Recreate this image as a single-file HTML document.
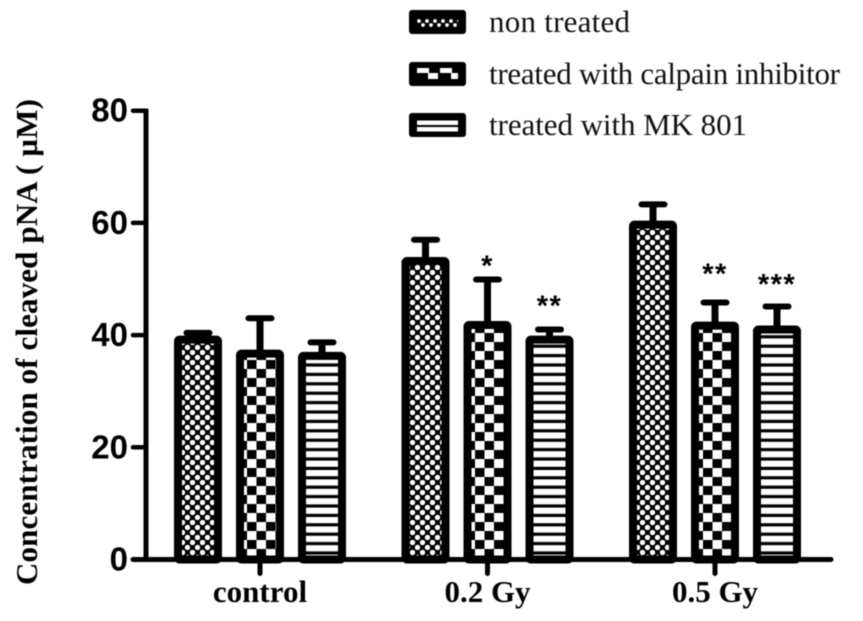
<!DOCTYPE html>
<html lang="en">
<head>
<meta charset="utf-8">
<title>Concentration of cleaved pNA</title>
<style>
html,body{margin:0;padding:0;background:#fff;}
#chart{display:block;width:863px;height:621px;filter:blur(0.55px);}
.tick{font-family:"Liberation Sans",sans-serif;font-weight:700;font-size:33px;fill:#000;text-anchor:end;}
.cat{font-family:"Liberation Serif",serif;font-weight:700;font-size:31px;fill:#000;text-anchor:middle;}
.leg{font-family:"Liberation Serif",serif;font-size:31px;fill:#111;}
.ytitle{font-family:"Liberation Serif",serif;font-weight:700;font-size:31px;fill:#000;}
.star{font-family:"Liberation Sans",sans-serif;font-weight:700;font-size:29px;fill:#000;text-anchor:middle;}
</style>
</head>
<body>
<svg id="chart" xmlns="http://www.w3.org/2000/svg" width="863" height="621" viewBox="0 0 863 621">
<defs>
<pattern id="p-dots" width="10" height="10" patternUnits="userSpaceOnUse">
<rect width="10" height="10" fill="#000"/>
<circle cx="2.5" cy="2.5" r="2.7" fill="#fff"/>
<circle cx="7.5" cy="7.5" r="2.7" fill="#fff"/>
</pattern>
<pattern id="p-check" width="19" height="18" patternUnits="userSpaceOnUse">
<rect width="19" height="18" fill="#fff"/>
<rect x="0" y="0" width="9.5" height="9" fill="#000"/>
<rect x="9.5" y="9" width="9.5" height="9" fill="#000"/>
</pattern>
<pattern id="p-stripe" width="10" height="9.4" patternUnits="userSpaceOnUse">
<rect width="10" height="9.4" fill="#fff"/>
<rect y="6.2" width="10" height="3.2" fill="#000"/>
</pattern>
<pattern id="p-dots-legend" width="8" height="8" patternUnits="userSpaceOnUse" patternTransform="translate(417 19)">
<rect width="8" height="8" fill="#000"/>
<circle cx="2" cy="2" r="1.9" fill="#fff"/>
<circle cx="6" cy="6" r="1.9" fill="#fff"/>
</pattern>
<pattern id="p-check-legend" width="23" height="12" patternUnits="userSpaceOnUse" patternTransform="translate(417 68)">
<rect width="23" height="12" fill="#000"/>
<rect x="0" y="0" width="12" height="5" fill="#fff"/>
<rect x="11" y="5" width="10" height="6" fill="#fff"/>
</pattern>
</defs>
<g id="plot"></g>
<g>
<rect x="409" y="10" width="57" height="24" rx="3" fill="#000"/>
<rect x="417" y="19" width="41" height="8" fill="url(#p-dots-legend)"/>
<text class="leg" x="489" y="32" textLength="141" lengthAdjust="spacing">non treated</text>
<rect x="409" y="62" width="57" height="24" rx="3" fill="#000"/>
<rect x="417" y="68" width="41" height="12" fill="url(#p-check-legend)"/>
<text class="leg" x="489" y="84" textLength="351" lengthAdjust="spacing">treated with calpain inhibitor</text>
<rect x="409" y="113" width="57" height="24" rx="3" fill="#000"/>
<rect x="417" y="120.5" width="41" height="4.5" fill="#fff"/>
<rect x="417" y="127" width="41" height="4.5" fill="#fff"/>
<text class="leg" x="489" y="135" textLength="258" lengthAdjust="spacing">treated with MK 801</text>
</g>
<text class="ytitle" transform="translate(37,585) rotate(-90)" textLength="486" lengthAdjust="spacing">Concentration of cleaved pNA ( µM)</text>
</svg>
<script>
const categories = ['control', '0.2 Gy', '0.5 Gy'];
const seriesNames = ['non-treated', 'calpain-inhibitor', 'mk-801'];
const nonTreated = [39.2, 53.2, 59.7];
const calpainInhibitor = [36.7, 41.8, 41.7];
const mk801 = [36.3, 39.2, 41.0];
const nonTreatedErrorTop = [40.4, 57.0, 63.3];
const calpainInhibitorErrorTop = [43.0, 49.9, 45.8];
const mk801ErrorTop = [38.7, 41.0, 45.1];
const significance = [['', '', ''], ['', '*', '**'], ['', '**', '***']];
const significanceLift = [[0, 0, 0], [0, 3.0, 4.8], [0, 5.7, 4.5]];
const yTicks = [0, 20, 40, 60, 80];

const seriesValues = [nonTreated, calpainInhibitor, mk801];
const seriesErrors = [nonTreatedErrorTop, calpainInhibitorErrorTop, mk801ErrorTop];
const seriesFills = ['url(#p-dots)', 'url(#p-check)', 'url(#p-stripe)'];

const NS = 'http://www.w3.org/2000/svg';
const plot = document.getElementById('plot');
const yScale = v => 559.5 - v * 5.61;
const groupX = g => 260 + g * 227.5;
const barX = (g, s) => groupX(g) + (s - 1) * 62;
const BAR_W = 40;

function make(tag, attrs, parent) {
  const el = document.createElementNS(NS, tag);
  for (const k in attrs) el.setAttribute(k, attrs[k]);
  parent.appendChild(el);
  return el;
}

seriesValues.forEach((vals, s) => {
  vals.forEach((v, g) => {
    const cx = barX(g, s);
    const top = yScale(v);
    const errTop = yScale(seriesErrors[s][g]);
    const stem = make('line', {x1: cx, x2: cx, y1: top, y2: errTop, stroke: '#000', 'stroke-width': 7}, plot);
    
    
    const cap = make('line', {x1: cx - 11.5, x2: cx + 11.5, y1: errTop, y2: errTop, stroke: '#000', 'stroke-width': 6, 'stroke-linecap': 'round'}, plot);
    
    
    const bar = make('rect', {x: cx - BAR_W / 2, y: top, width: BAR_W, height: yScale(0) - top, fill: seriesFills[s], stroke: '#000', 'stroke-width': 8, rx: 1.5}, plot);
    
    
    if (significance[g][s]) {
      const star = make('text', {x: cx, y: yScale(seriesErrors[s][g] + significanceLift[g][s]) + 13, class: 'star', 'letter-spacing': '1.5'}, plot);
      
      
      star.textContent = significance[g][s];
    }
  });
});

const yAxis = make('line', {x1: 146, x2: 146, y1: yScale(80) - 2, y2: yScale(0) + 2, stroke: '#000', 'stroke-width': 5}, plot);


const xAxis = make('line', {x1: 133, x2: 831, y1: yScale(0), y2: yScale(0), stroke: '#000', 'stroke-width': 5, 'stroke-linecap': 'round'}, plot);



yTicks.forEach(t => {
  const y = yScale(t);
  const mark = make('line', {x1: 133, x2: 146, y1: y, y2: y, stroke: '#000', 'stroke-width': 4.5, 'stroke-linecap': 'round'}, plot);
  
  
  const label = make('text', {x: 128, y: y + 11, class: 'tick'}, plot);
  
  
  label.textContent = String(t);
});

categories.forEach((c, g) => {
  const x = groupX(g);
  const mark = make('line', {x1: x, x2: x, y1: yScale(0), y2: yScale(0) + 14, stroke: '#000', 'stroke-width': 5, 'stroke-linecap': 'round'}, plot);
  
  
  const label = make('text', {x: x, y: 602, class: 'cat'}, plot);
  
  
  label.textContent = c;
});
</script>
</body>
</html>
